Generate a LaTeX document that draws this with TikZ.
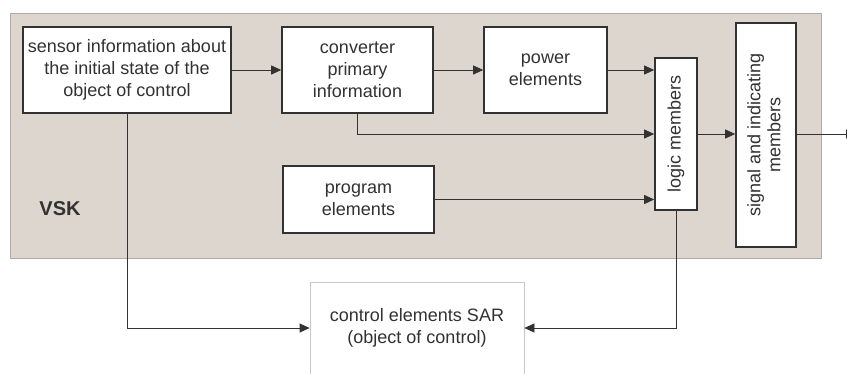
\documentclass[tikz,border=0pt]{standalone}
\usepackage{fontspec}
\setmainfont{Liberation Sans}
\usepackage{tikz}
\usepackage{xcolor}
\usetikzlibrary{
    arrows.meta,
    calc,
    positioning
}
\definecolor{panel}{RGB}{221,214,207}
\definecolor{ink}{RGB}{50,50,50}

\begin{document}
\begin{tikzpicture}[x=1pt, y=1pt,
    block/.style={draw=ink, line width=1.6pt, fill=white, inner sep=0pt, align=center,
        font=\fontsize{18}{22}\selectfont, text=ink},
    flow/.style={draw=ink, line width=0.8pt, -{Triangle[length=10pt, width=9pt]}}]
                        \useasboundingbox (0, 0) rectangle (847, 373);
                        \fill[white] (0, 0) rectangle (847, 373);
                        % shaded VSK panel
                        \fill[panel] (10, 115) rectangle (821, 360);
                        \draw[panel!80!black, line width=0.6pt] (10, 115) rectangle (821, 360);
                        \node[font=\fontsize{20}{24}\selectfont\bfseries, text=ink] (vsk) at (60, 164) {VSK};
                        \node[block, minimum width=208, minimum height=86] (sensor) at (127, 303)
                            {sensor information about\\the initial state of the\\object of control};
                        \node[block, minimum width=151, minimum height=86] (conv) at (357.5, 303)
                            {converter\\primary\\information};
                        \node[block, minimum width=123, minimum height=86] (power) at (545.5, 303)
                            {power\\elements};
                        \node[block, minimum width=151, minimum height=67] (prog) at (358.5, 173.5)
                            {program\\elements};
                        \node[block, minimum width=42, minimum height=152] (logic) at (676, 239)
                            {\rotatebox{90}{logic members}};
                        \node[block, minimum width=60, minimum height=224] (signal) at (766, 238)
                            {\rotatebox{90}{\begin{tabular}{@{}c@{}}signal and indicating\\[-2pt]members\end{tabular}}};
                        \node[block, draw=black!22, line width=0.8pt, minimum width=214, minimum height=92] (ctrl) at (417, 45)
                            {control elements SAR\\(object of control)};
                        \coordinate (out) at (856, 239);
                        \draw[flow] (sensor.east) -- (conv.west);
                        \draw[flow] (conv.east) -- (power.west);
                        \draw[flow] (power.east) -- (power.east -| logic.west);
                        \draw[flow] (conv.south) |- (logic.west);
                        \draw[flow] (prog.east) -- (prog.east -| logic.west);
                        \draw[flow] (logic.east) -- (logic.east -| signal.west);
                        \draw[flow] (signal.east |- out) -- (out);
                        \draw[flow] (sensor.south) |- (ctrl.west);
                        \draw[flow] (logic.south) |- (ctrl.east);
                    \end{tikzpicture}
\end{document}
